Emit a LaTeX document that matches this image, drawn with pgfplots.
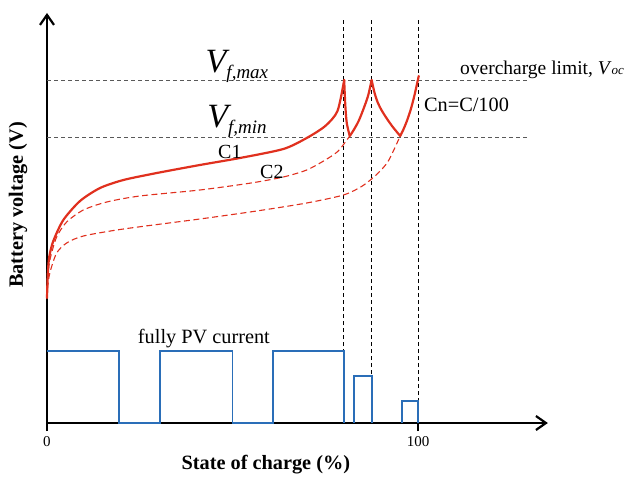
\documentclass[border=0pt]{standalone}
\usepackage{pgfplots}
\pgfplotsset{compat=1.18}
\usepackage{fontspec}
\setmainfont{Liberation Serif}
\usetikzlibrary{arrows.meta}
\definecolor{cred}{HTML}{E0301E}
\definecolor{cblue}{HTML}{2A6EB8}
\begin{document}
\begin{tikzpicture}
\begin{axis}[
  x=3.71pt, y=1pt,
  xmin=0, xmax=135, ymin=0, ymax=410,
  axis lines=left,
  axis line style={line width=2.2pt, black, -{Straight Barb[length=10pt,width=14pt,line width=2.2pt]}},
  clip=false,
  xtick={0,100}, ytick=\empty,
  major tick length=16pt,
  tick align=center,
  tick style={line width=2.2pt, black},
  /pgf/number format/assume math mode=true,
  xticklabel style={font=\fontsize{15}{18}\selectfont, yshift=-2pt},
  xlabel={\textbf{State of charge (\%)}},
  ylabel={\textbf{Battery voltage (V)}},
  every axis x label/.style={at={(axis cs:59,-42)}, anchor=center, font=\fontsize{20.3}{24}\selectfont},
  every axis y label/.style={at={(axis cs:-7.8,218)}, anchor=center, rotate=90, font=\fontsize{20.3}{24}\selectfont},
]
% reference dashed lines
\addplot[gray!70!black, line width=0.9pt, dash pattern=on 4pt off 3pt] coordinates {(0,343) (129.4,343)};
\addplot[gray!70!black, line width=0.9pt, dash pattern=on 4pt off 3pt] coordinates {(0,286) (129.4,286)};
\addplot[black, line width=0.9pt, dash pattern=on 4pt off 3pt] coordinates {(80,0) (80,403)};
\addplot[black, line width=0.9pt, dash pattern=on 4pt off 3pt] coordinates {(87.5,0) (87.5,403)};
\addplot[black, line width=0.9pt, dash pattern=on 4pt off 3pt] coordinates {(100,0) (100,403)};
% blue current
\addplot[cblue, line width=1.8pt, line join=miter] coordinates {(0,72) (19.5,72) (19.5,0) (30.5,0) (30.5,72) (50,72) (50,0) (61,0) (61,72) (80,72) (80,0)};
\addplot[cblue, line width=1.8pt] coordinates {(82.7,0) (82.7,47) (87.5,47) (87.5,0)};
\addplot[cblue, line width=1.8pt] coordinates {(95.6,0) (95.6,22) (100,22) (100,0)};
% dashed C2 and lower curve
\addplot[cred, line width=1.1pt, dash pattern=on 6pt off 3.5pt, smooth, tension=0.45] coordinates {(0,125) (0.3,150) (0.9,165) (2.6,186) (5.3,201) (9.8,213) (16.1,221) (25,227) (41.2,233) (55,240) (63.7,246) (70,253) (75,263) (78.5,272) (81.6,287)};
\addplot[cred, line width=1.1pt, dash pattern=on 6pt off 3.5pt, smooth, tension=0.45] coordinates {(0,125) (0.3,140) (0.9,152) (2.6,170) (5.3,180) (9.8,187) (20.6,194) (41.2,204) (56.5,212) (70,220) (79.9,228) (85,237) (89,249) (92,262) (95.2,287)};
% C1 solid
\addplot[cred, line width=2.2pt, smooth, tension=0.45, line cap=round] coordinates {(0,125) (0.2,148) (0.6,166) (1.7,182) (4.4,203) (8.9,222) (14.3,235) (20.6,243) (29.6,250) (41.2,258) (52,265) (63.7,274) (70,285) (75,297) (78.3,312) (80.1,343)};
\addplot[cred, line width=2.2pt, smooth, line cap=round] coordinates {(80.1,343) (80.4,318) (80.8,300) (81.6,287)};
\addplot[cred, line width=2.2pt, smooth, line cap=round] coordinates {(81.6,287) (82.5,292) (84,302) (85.5,316) (86.6,328) (87.5,343)};
\addplot[cred, line width=2.2pt, smooth, line cap=round] coordinates {(87.5,343) (88.3,330) (89.2,320) (90.3,312) (91.5,305) (93,297) (95.2,287)};
\addplot[cred, line width=2.2pt, smooth, line cap=round] coordinates {(95.2,287) (96,293) (97,302) (98,313) (99,327) (100.2,347)};
% texts
\node[anchor=base, inner sep=0pt] at (axis cs:51.2,350) {{\fontsize{34}{40}\selectfont\itshape V}\raisebox{-6pt}{\fontsize{19}{22}\selectfont\itshape f,max}};
\node[anchor=base, inner sep=0pt] at (axis cs:51.2,295) {{\fontsize{34}{40}\selectfont\itshape V}\raisebox{-6pt}{\fontsize{19}{22}\selectfont\itshape f,min}};
\node[anchor=base west, inner sep=0pt, font=\fontsize{19.5}{22}\selectfont] at (axis cs:111.3,348) {overcharge limit, \textit{V}{\fontsize{13}{14}\selectfont\itshape oc}};
\node[anchor=base west, inner sep=0pt, font=\fontsize{20.3}{24}\selectfont] at (axis cs:101.6,311) {Cn=C/100};
\node[anchor=center, inner sep=0pt, font=\fontsize{20}{24}\selectfont] at (axis cs:49.3,271) {C1};
\node[anchor=center, inner sep=0pt, font=\fontsize{20}{24}\selectfont] at (axis cs:60.6,251) {C2};
\node[anchor=base, inner sep=0pt, font=\fontsize{20.3}{24}\selectfont] at (axis cs:42.3,80) {fully PV current};
\end{axis}
\pgfresetboundingbox
\path (-47pt,-54pt) rectangle (581pt,423pt);
\end{tikzpicture}
\end{document}
